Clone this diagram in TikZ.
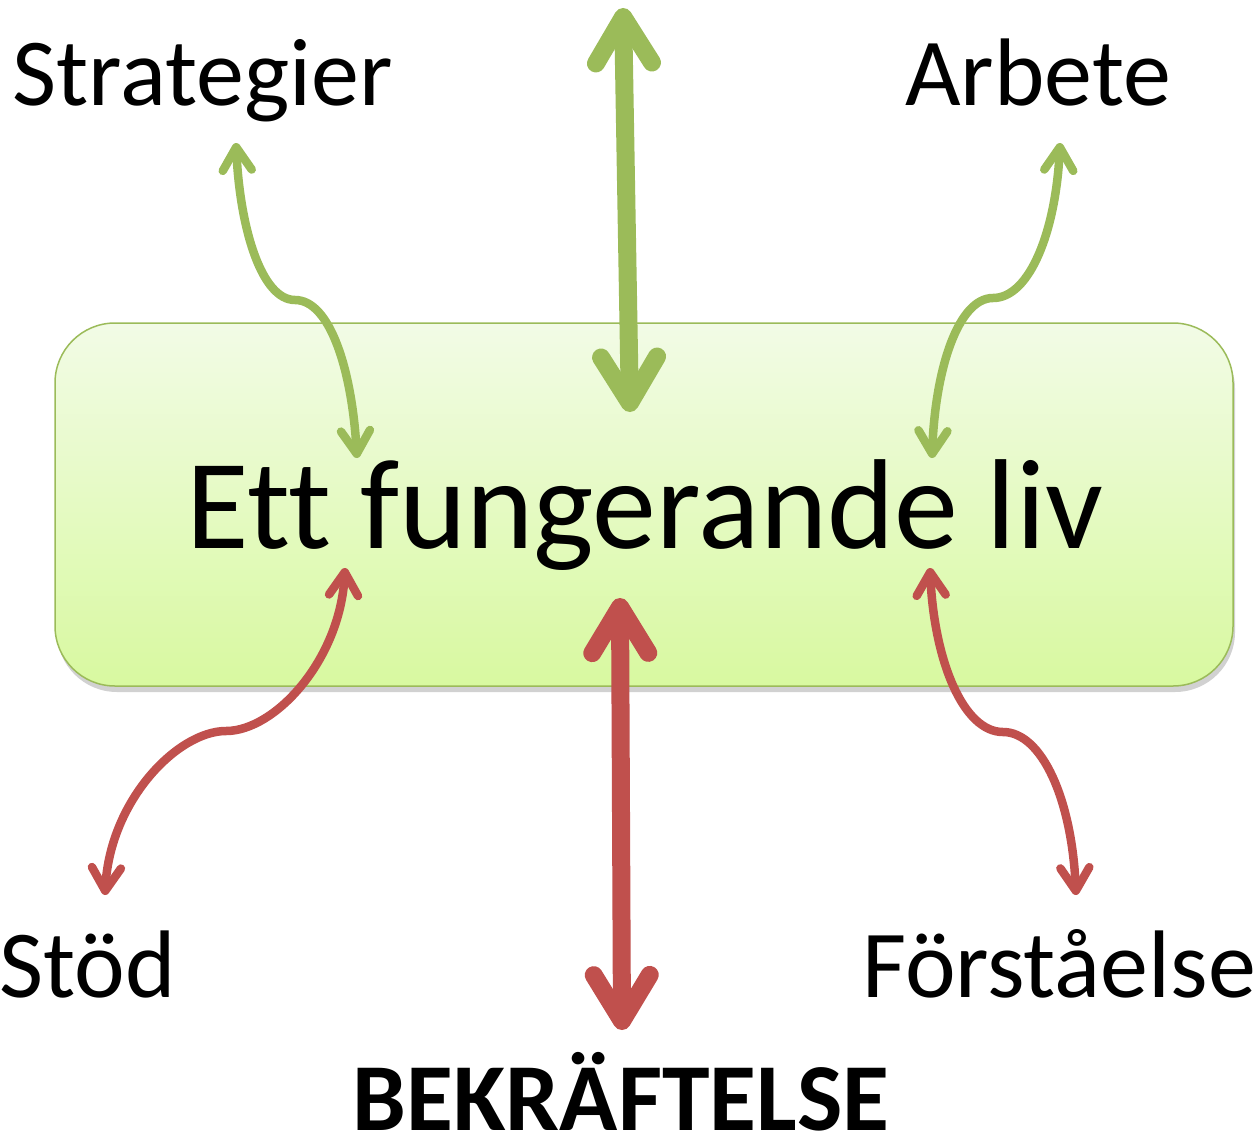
\documentclass[tikz,border=0pt]{standalone}
\usepackage{fontspec}
\setmainfont{Carlito}[Ligatures=CommonOff]
\usetikzlibrary{arrows.meta,shadows}
\definecolor{grn}{RGB}{155,187,89}
\definecolor{rd}{RGB}{192,80,77}
\definecolor{boxtop}{RGB}{242,251,230}
\definecolor{boxbot}{RGB}{216,249,160}
\tikzset{
  bigtip/.tip={Straight Barb[length=46pt,width=56pt,round]},
  smalltip/.tip={Straight Barb[length=23pt,width=29pt,round]},
  bigarrow/.style={line width=18pt, bigtip-bigtip},
  smallarrow/.style={line width=8.5pt, smalltip-smalltip},
  lbl/.style={inner sep=0pt, anchor=base west, text=black},
  mainbox/.style={draw=grn, line width=1.5pt, rounded corners=60pt,
    top color=boxtop, bottom color=boxbot, minimum width=1178pt, minimum height=363pt,
    drop shadow={shadow xshift=2pt, shadow yshift=-6pt, opacity=0.3, fill=black!60}}
}
\begin{document}
\begin{tikzpicture}[x=1pt,y=-1pt]
\useasboundingbox (0,0) rectangle (1257,1135);
\node[mainbox] (box) at (644,504.5) {};
\node[inner sep=0pt, anchor=base] (main) at (645,548) {\fontsize{128}{128}\selectfont Ett fungerande liv};

\node[lbl] (strat) at (12,105) {\fontsize{96}{96}\selectfont Strategier};
\node[lbl] (arb) at (905,105) {\fontsize{96}{96}\selectfont Arbete};
\node[lbl] (stod) at (-1,997) {\fontsize{96}{96}\selectfont Stöd};
\node[lbl] (forst) at (862,997) {\fontsize{96}{96}\selectfont Förståelse};
\node[inner sep=0pt, anchor=base] (bek) at (621,1130) {\fontsize{96}{96}\selectfont\bfseries BEKRÄFTELSE};

% endpoints
\coordinate (gv1) at (623,8);
\coordinate (gv2) at (630,412);
\coordinate (rv1) at (620,598);
\coordinate (rv2) at (622,1030);
\coordinate (gl1) at (236,143);
\coordinate (glm) at (295,300);
\coordinate (gl2) at (357,458);
\coordinate (gr1) at (1060,143);
\coordinate (grm) at (993,298);
\coordinate (gr2) at (932,458);
\coordinate (rl1) at (345,568);
\coordinate (rlm) at (226,731);
\coordinate (rl2) at (105,895);
\coordinate (rr1) at (930,568);
\coordinate (rrm) at (1003,732);
\coordinate (rr2) at (1076,895);

\draw[bigarrow, grn] (gv1) -- (gv2);
\draw[bigarrow, rd] (rv1) -- (rv2);

\draw[smallarrow, grn] (gl1) .. controls (240,230) and (262,300) .. (glm) .. controls (330,300) and (352,370) .. (gl2);
\draw[smallarrow, grn] (gr1) .. controls (1056,230) and (1030,298) .. (grm) .. controls (958,298) and (935,370) .. (gr2);
\draw[smallarrow, rd] (rl1) .. controls (340,660) and (275,731) .. (rlm) .. controls (178,731) and (110,800) .. (rl2);
\draw[smallarrow, rd] (rr1) .. controls (934,660) and (963,732) .. (rrm) .. controls (1042,732) and (1072,800) .. (rr2);
\end{tikzpicture}
\end{document}
